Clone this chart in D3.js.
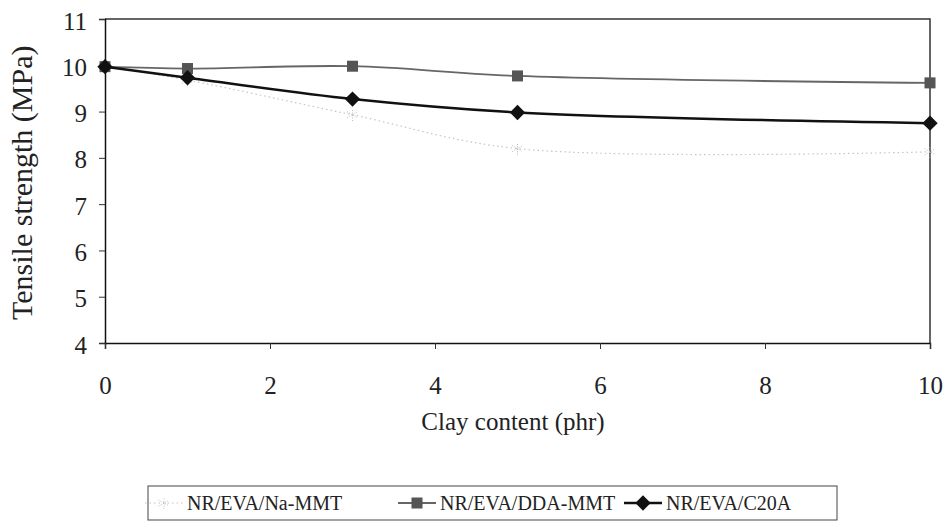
<!DOCTYPE html>
<html>
<head>
<meta charset="utf-8">
<script src="https://cdn.jsdelivr.net/npm/d3@7"></script>
<style>
  body { margin: 0; background: #fff; }
</style>
</head>
<body>
<script>
// clay content (phr)
var clay = [0, 1, 3, 5, 10];
// tensile strength (MPa) per compound
var naMMT = [9.98, 9.68, 8.93, 8.2, 8.13];
var ddaMMT = [9.97, 9.93, 9.98, 9.77, 9.62];
var c20A = [9.97, 9.73, 9.27, 8.98, 8.75];
var xTicks = [0, 2, 4, 6, 8, 10];
var yTicks = [4, 5, 6, 7, 8, 9, 10, 11];
var seriesNames = ["NR/EVA/Na-MMT", "NR/EVA/DDA-MMT", "NR/EVA/C20A"];

var serif = "'Liberation Serif', 'Times New Roman', serif";
var screen = {width: 948, height: 529};
var plot = {left: 105, right: 930, top: 19, bottom: 343};

var svg = d3.select("body")
            .append("svg")
            .attr("width", screen.width)
            .attr("height", screen.height);

var x = d3.scaleLinear().domain([0, 10]).range([plot.left, plot.right]);
var y = d3.scaleLinear().domain([4, 11]).range([plot.bottom, plot.top]);

// frame top and right
svg.append("path")
   .attr("d", "M" + plot.left + "," + plot.top + "H" + plot.right + "V" + plot.bottom)
   .attr("fill", "none")
   .attr("stroke", "#333")
   .attr("stroke-width", 1.5);

// y axis
var yAxis = svg.append("g")
               .attr("transform", "translate(" + plot.left + ",0)")
               .call(d3.axisLeft(y).tickValues(yTicks).tickSize(6).tickPadding(12).tickFormat(d3.format("d")));
yAxis.attr("font-family", null);
yAxis.select(".domain").attr("stroke", "#111").attr("stroke-width", 1.5);
yAxis.selectAll(".tick line").attr("stroke", "#333");
yAxis.selectAll("text").style("font-family", serif).style("font-size", "25px").attr("fill", "#222").attr("dy", "0.4em");

// x axis
var xAxis = svg.append("g")
               .attr("transform", "translate(0," + plot.bottom + ")")
               .call(d3.axisBottom(x).tickValues(xTicks).tickSize(6).tickPadding(27).tickFormat(d3.format("d")));
xAxis.attr("font-family", null);
xAxis.select(".domain").attr("stroke", "#111").attr("stroke-width", 1.5);
xAxis.selectAll(".tick line").attr("stroke", "#333");
xAxis.selectAll("text").style("font-family", serif).style("font-size", "25px").attr("fill", "#222");

// axis titles
svg.append("text")
   .attr("transform", "translate(32,320) rotate(-90)")
   .attr("text-anchor", "start")
   .style("font-family", serif)
   .style("font-size", "30px")
   .attr("fill", "#222")
   .text("Tensile strength (MPa)");

svg.append("text")
   .attr("x", 513)
   .attr("y", 430)
   .attr("text-anchor", "middle")
   .style("font-family", serif)
   .style("font-size", "25px")
   .attr("fill", "#222")
   .text("Clay content (phr)");

var line = d3.line()
             .x(function(d) { return x(d[0]); })
             .y(function(d) { return y(d[1]); })
             .curve(d3.curveCatmullRom.alpha(0.5));

var series = [
  {name: seriesNames[0], values: naMMT, stroke: "#c4c4c4", width: 1.2, dash: "1.5,3", marker: "star"},
  {name: seriesNames[1], values: ddaMMT, stroke: "#666", width: 1.8, dash: null, marker: "square"},
  {name: seriesNames[2], values: c20A, stroke: "#111", width: 2.5, dash: null, marker: "diamond"}
];

var drawMarker = function(g, type, cx, cy) {
  if (type == "square") {
    g.append("rect")
     .attr("x", cx - 5.5).attr("y", cy - 5.5)
     .attr("width", 11).attr("height", 11)
     .attr("fill", "#555");
  } else if (type == "diamond") {
    g.append("path")
     .attr("d", d3.symbol().type(d3.symbolDiamond2).size(150)())
     .attr("transform", "translate(" + cx + "," + cy + ")")
     .attr("fill", "#111");
  } else {
    g.append("path")
     .attr("d", d3.symbol().type(d3.symbolAsterisk).size(110)())
     .attr("transform", "translate(" + cx + "," + cy + ")")
     .attr("fill", "none")
     .attr("stroke", "#bbb")
     .attr("stroke-width", 1)
     .attr("stroke-dasharray", "1,1.5");
  }
};

series.forEach(function(s) {
  var pts = clay.map(function(c, i) { return [c, s.values[i]]; });
  var g = svg.append("g");
  g.append("path")
   .attr("d", line(pts))
   .attr("fill", "none")
   .attr("stroke", s.stroke)
   .attr("stroke-width", s.width)
   .attr("stroke-dasharray", s.dash);
  pts.forEach(function(p) {
    drawMarker(g, s.marker, x(p[0]), y(p[1]));
  });
});

// legend
var legend = svg.append("g");
legend.append("rect")
      .attr("x", 148).attr("y", 486)
      .attr("width", 689).attr("height", 34)
      .attr("fill", "none")
      .attr("stroke", "#444")
      .attr("stroke-width", 1);

var legendX = [145, 398, 624];
series.forEach(function(s, i) {
  var lx = legendX[i], ly = 503;
  legend.append("line")
        .attr("x1", lx).attr("x2", lx + 38)
        .attr("y1", ly).attr("y2", ly)
        .attr("stroke", s.stroke)
        .attr("stroke-width", s.width)
        .attr("stroke-dasharray", s.dash);
  drawMarker(legend, s.marker, lx + 19, ly);
  legend.append("text")
        .attr("x", lx + 42)
        .attr("y", ly + 7)
        .style("font-family", serif)
        .style("font-size", "20px")
        .attr("fill", "#222")
        .text(s.name);
});
</script>
</body>
</html>
